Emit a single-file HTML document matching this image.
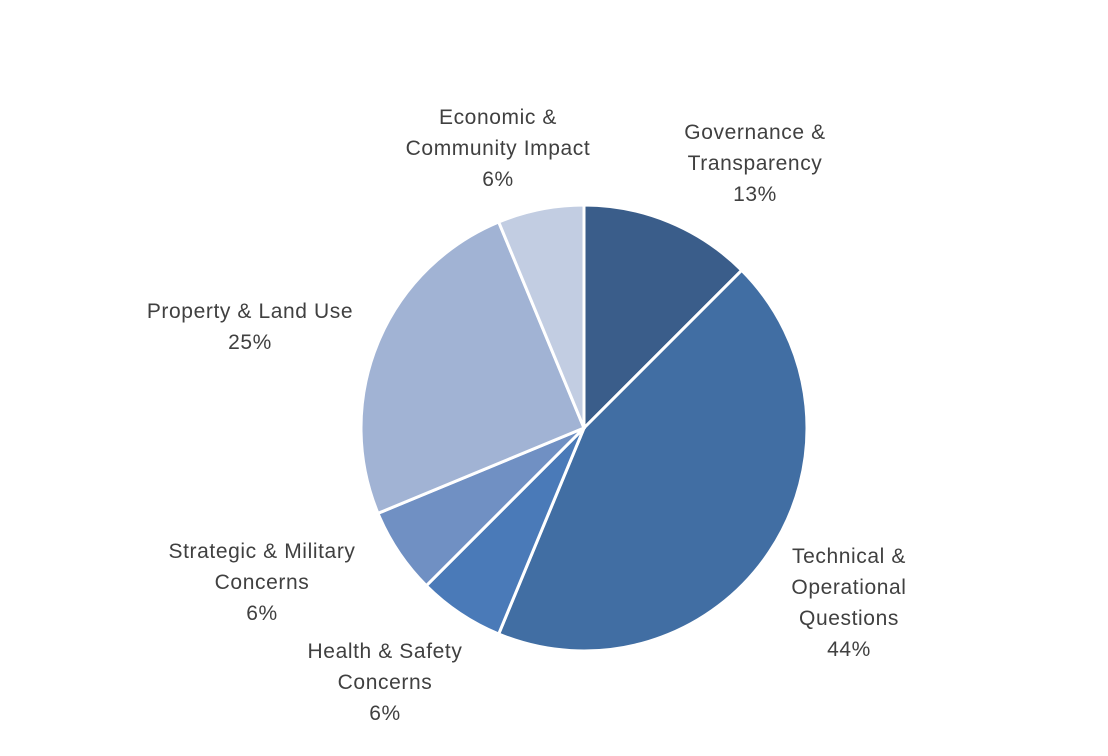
<!DOCTYPE html>
<html><head><meta charset="utf-8"><style>
html,body{margin:0;padding:0;background:#fff;}
svg{display:block;}
text{font-family:"Liberation Sans",sans-serif;font-size:21px;letter-spacing:0.6px;fill:#404040;}
</style></head><body>
<svg id="chart" width="1108" height="756"></svg>
<script>
const categories = [["Governance &","Transparency"],["Technical &","Operational","Questions"],["Health & Safety","Concerns"],["Strategic & Military","Concerns"],["Property & Land Use"],["Economic &","Community Impact"]];
const values = [2,7,1,1,4,1];
const colors = ["#3a5d8a","#416ea3","#4a7ab8","#7090c3","#a1b3d4","#c2cde2"];
const labelPos = [[755,132],[849,556],[385,651],[262,551],[250,311],[498,117]];
const cx=584, cy=428, r=223;
const svg=document.getElementById('chart');
const NS='http://www.w3.org/2000/svg';
const total=values.reduce((a,b)=>a+b,0);
let a0=0;
values.forEach((v,i)=>{
  const a1=a0+v/total*2*Math.PI;
  const x0=cx+r*Math.sin(a0), y0=cy-r*Math.cos(a0);
  const x1=cx+r*Math.sin(a1), y1=cy-r*Math.cos(a1);
  const p=document.createElementNS(NS,'path');
  p.setAttribute('d',`M${cx},${cy}L${x0},${y0}A${r},${r} 0 ${a1-a0>Math.PI?1:0} 1 ${x1},${y1}Z`);
  p.setAttribute('fill',colors[i]);p.setAttribute('stroke','#fff');p.setAttribute('stroke-width','3');
  
  
  svg.appendChild(p);
  a0=a1;
});
values.forEach((v,i)=>{
  const lines=categories[i].concat([Math.round(v/total*100)+'%']);
  const t=document.createElementNS(NS,'text');
  t.setAttribute('text-anchor','middle');
  
  
  lines.forEach((l,j)=>{
    const s=document.createElementNS(NS,'tspan');
    s.setAttribute('x',labelPos[i][0]);s.setAttribute('y',labelPos[i][1]+j*31+7);
    s.textContent=l;t.appendChild(s);
  });
  svg.appendChild(t);
});
</script>
</body></html>
